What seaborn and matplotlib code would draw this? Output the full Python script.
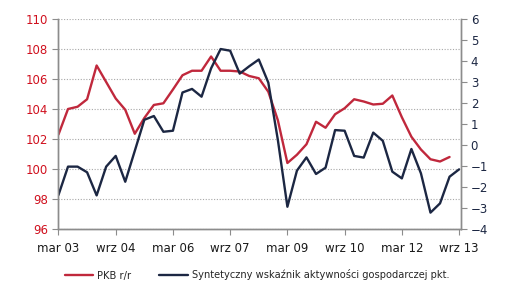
import numpy as np
import pandas as pd
import seaborn as sns
import matplotlib.pyplot as plt

# quarterly data, Q1 2003 .. Q3 2013
tick_labels = ["mar 03", "wrz 04", "mar 06", "wrz 07", "mar 09", "wrz 10", "mar 12", "wrz 13"]

pkb = [102.3, 104.0, 104.15, 104.65, 106.9, 105.8, 104.7, 103.95, 102.35, 103.4,
       104.27, 104.38, 105.3, 106.25, 106.55, 106.55, 107.5, 106.55, 106.55, 106.5,
       106.2, 106.05, 105.15, 103.25, 100.4, 100.95, 101.65, 103.15, 102.75, 103.65,
       104.05, 104.65, 104.5, 104.3, 104.35, 104.9, 103.45, 102.15, 101.3, 100.65,
       100.5, 100.8]
swag = [-2.38, -1.03, -1.03, -1.3, -2.4, -1.03, -0.52, -1.75, -0.28, 1.2,
        1.38, 0.63, 0.68, 2.5, 2.67, 2.3, 3.65, 4.57, 4.49, 3.4,
        3.75, 4.07, 2.97, 0.24, -2.94, -1.22, -0.59, -1.38, -1.08, 0.71,
        0.68, -0.52, -0.6, 0.59, 0.2, -1.27, -1.59, -0.19, -1.35, -3.22,
        -2.78, -1.51, -1.16]

red = "#c0283c"
navy = "#1c2743"
grey = "#8c8c8c"

sns.set_style("white")
plt.rcParams["font.family"] = ["DejaVu Sans"]

fig = plt.figure(figsize=(5.06, 2.96), dpi=100)
ax = fig.add_axes([58 / 506, 1 - 229 / 296, (461 - 58) / 506, 210 / 296])
ax2 = ax.twinx()

x_pkb = np.arange(len(pkb))
x_swag = np.arange(len(swag))
sns.lineplot(x=x_pkb, y=pkb, ax=ax, color=red, linewidth=1.7, label="PKB r/r", legend=False)
sns.lineplot(x=x_swag, y=swag, ax=ax2, color=navy, linewidth=1.7,
             label="Syntetyczny wskaźnik aktywności gospodarczej pkt.", legend=False)

ax.set_ylim(96, 110)
ax.set_yticks(np.arange(96, 111, 2))
ax2.set_ylim(-4, 6)
ax2.set_yticks(np.arange(-4, 7, 1))
ax.set_xlim(-0.05, 42.2)
ax.set_xticks(np.arange(0, 43, 6))
ax.set_xticklabels(tick_labels)

ax.yaxis.grid(True, linestyle=(0, (1, 1.5)), color="#a8a8a8", linewidth=0.8)
ax.set_axisbelow(True)
for a in (ax, ax2):
    a.spines["top"].set_visible(False)
    for s in ("left", "right", "bottom"):
        a.spines[s].set_color(grey)
        a.spines[s].set_linewidth(1.0)
    a.tick_params(axis="both", length=4, width=0.8, color=grey, labelsize=8.5, pad=3)
    a.set_xlabel("")
    a.set_ylabel("")
ax.tick_params(axis="y", labelcolor="#d0101e", left=True)
ax.tick_params(axis="x", labelcolor="#1a1a1a", bottom=True, pad=5)
ax2.tick_params(axis="y", labelcolor=navy, right=True)

h1, l1 = ax.get_legend_handles_labels()
h2, l2 = ax2.get_legend_handles_labels()
fig.legend(h1 + h2, l1 + l2, loc="center", bbox_to_anchor=(0.508, 1 - 275 / 296),
           ncol=2, frameon=False, fontsize=7.1, handlelength=2.9, handletextpad=0.4,
           columnspacing=2.8)

fig.savefig("out.png", dpi=100)
